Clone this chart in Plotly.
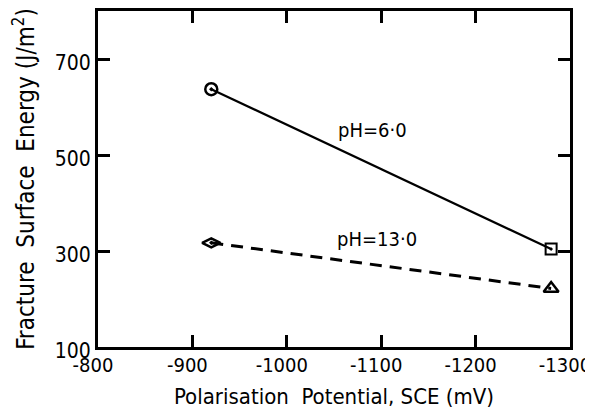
import plotly.graph_objects as go

potential = [-920, -1280]
ph6_energy = [637, 304]
ph13_energy = [317, 222]

x_ticks = [-800, -900, -1000, -1100, -1200, -1300]
x_ticklabels = ["-800", "-900", "-1000", "-1100", "-1200", "-1300"]
y_ticks = [100, 300, 500, 700]
y_ticklabels = ["100", "300", "500", "700"]

FONT = "DejaVu Sans Condensed"

fig = go.Figure()
fig.add_trace(go.Scatter(x=potential, y=ph6_energy, mode="lines", line=dict(color="black", width=2.2), showlegend=False))
fig.add_trace(go.Scatter(x=potential, y=ph13_energy, mode="lines", line=dict(color="black", width=3, dash="12px,8px"), showlegend=False))
fig.add_trace(go.Scatter(x=[potential[0]], y=[ph6_energy[0]], mode="markers",
                         marker=dict(symbol="circle-open-dot", size=12, color="black", line=dict(width=2.5)), showlegend=False))
fig.add_trace(go.Scatter(x=[potential[1]], y=[ph6_energy[1]], mode="markers",
                         marker=dict(symbol="square-open-dot", size=11, color="black", line=dict(width=2)), showlegend=False))
fig.add_trace(go.Scatter(x=[potential[0]], y=[ph13_energy[0]], mode="markers",
                         marker=dict(symbol="diamond-wide-open-dot", size=13, color="black", line=dict(width=2.5)), showlegend=False))
fig.add_trace(go.Scatter(x=[potential[1]], y=[ph13_energy[1]], mode="markers",
                         marker=dict(symbol="triangle-up-open", size=13, color="black", line=dict(width=2.5)), showlegend=False))

fig.add_annotation(x=-1091, y=553, text="pH=6·0", showarrow=False, font=dict(family=FONT, size=20, color="black"))
fig.add_annotation(x=-1096, y=325, text="pH=13·0", showarrow=False, font=dict(family=FONT, size=20, color="black"))

axis_common = dict(showgrid=False, zeroline=False, showline=True, linecolor="black", linewidth=3,
                   mirror="ticks", ticks="inside", ticklen=12, tickwidth=3, tickcolor="black",
                   automargin=False, ticklabeloverflow="allow")
fig.update_xaxes(range=[-800, -1300], tickvals=x_ticks, ticktext=x_ticklabels,
                 tickfont=dict(family=FONT, size=20, color="black"),
                 ticklabelshift=5, ticklabelstandoff=-2,
                 title=dict(text="Polarisation  Potential, SCE (mV)", font=dict(family=FONT, size=22, color="black"), standoff=16),
                 **axis_common)
fig.update_yaxes(range=[100, 800], tickvals=y_ticks, ticktext=y_ticklabels,
                 tickfont=dict(family=FONT, size=21, color="black"),
                 ticklabelshift=4,
                 title=dict(text="Fracture  Surface  Energy (J/m<sup>2</sup>)", font=dict(family=FONT, size=24, color="black"), standoff=14),
                 **axis_common)
fig.update_layout(width=585, height=401, margin=dict(l=90, r=23, t=3, b=62),
                  plot_bgcolor="white", paper_bgcolor="white",
                  font=dict(family=FONT, color="black"))
fig.write_html("out.html")
